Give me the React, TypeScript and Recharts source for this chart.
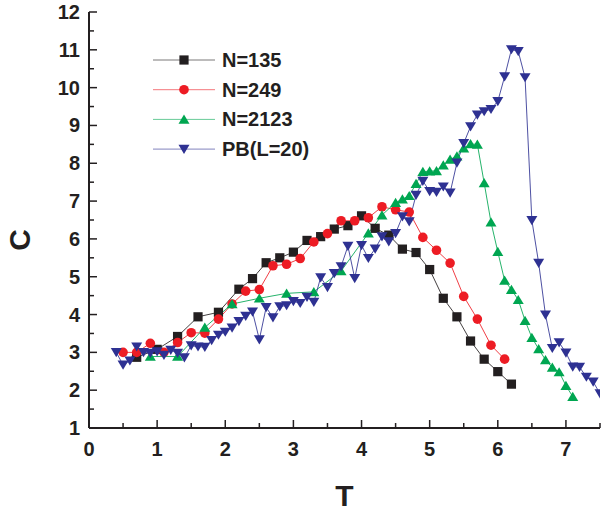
import React from "react";
import { LineChart, Line, XAxis, YAxis, Label } from "recharts";

// axis ticks (minor every 0.5, labels only on integers)
const xTicks = [0, 0.5, 1, 1.5, 2, 2.5, 3, 3.5, 4, 4.5, 5, 5.5, 6, 6.5, 7, 7.5];
const yTicks = [1, 1.5, 2, 2.5, 3, 3.5, 4, 4.5, 5, 5.5, 6, 6.5, 7, 7.5, 8, 8.5, 9, 9.5, 10, 10.5, 11, 11.5, 12];

// N=135
const t135 = [0.7, 1.0, 1.3, 1.6, 1.9, 2.2, 2.4, 2.6, 2.8, 3.0, 3.2, 3.4, 3.6, 3.8, 4.0, 4.2, 4.4, 4.6, 4.8, 5.0, 5.2, 5.4, 5.6, 5.8, 6.0, 6.2];
const c135 = [2.87, 3.08, 3.42, 3.94, 4.06, 4.67, 4.95, 5.37, 5.5, 5.65, 5.96, 6.06, 6.26, 6.35, 6.61, 6.28, 6.1, 5.73, 5.64, 5.19, 4.43, 3.94, 3.3, 2.82, 2.49, 2.16];

// N=249
const t249 = [0.5, 0.7, 0.9, 1.1, 1.3, 1.5, 1.7, 1.9, 2.1, 2.3, 2.5, 2.7, 2.9, 3.1, 3.3, 3.5, 3.7, 3.9, 4.1, 4.3, 4.5, 4.7, 4.9, 5.1, 5.3, 5.5, 5.7, 5.9, 6.1];
const c249 = [3.0, 3.0, 3.24, 3.0, 3.26, 3.52, 3.51, 3.88, 4.28, 4.62, 4.66, 5.29, 5.33, 5.48, 5.92, 6.14, 6.48, 6.48, 6.56, 6.85, 6.77, 6.71, 6.04, 5.7, 5.36, 4.48, 3.88, 3.19, 2.82];

// N=2123
const t2123 = [0.9, 1.3, 1.7, 2.1, 2.5, 2.9, 3.3, 3.7, 4.1, 4.3, 4.5, 4.6, 4.7, 4.8, 4.9, 5.0, 5.1, 5.2, 5.3, 5.4, 5.5, 5.6, 5.7, 5.8, 5.9, 6.0, 6.1, 6.2, 6.3, 6.4, 6.5, 6.6, 6.7, 6.8, 6.9, 7.0, 7.1];
const c2123 = [2.89, 2.89, 3.66, 4.28, 4.43, 4.56, 4.6, 5.15, 6.15, 6.63, 6.96, 7.05, 7.14, 7.46, 7.78, 7.79, 7.8, 7.95, 8.1, 8.19, 8.4, 8.51, 8.5, 7.48, 6.44, 5.66, 4.9, 4.66, 4.39, 3.84, 3.39, 3.09, 2.8, 2.6, 2.48, 2.12, 1.83];

// PB(L=20)
const tPB = [
  0.4, 0.5, 0.6, 0.7, 0.8, 0.9, 1.0, 1.1, 1.2, 1.3, 1.4, 1.5, 1.6, 1.7, 1.8, 1.9, 2.0, 2.1, 2.2, 2.3,
  2.4, 2.5, 2.6, 2.7, 2.8, 2.9, 3.0, 3.1, 3.2, 3.3, 3.4, 3.5, 3.6, 3.7, 3.8, 3.9, 4.0, 4.1, 4.2, 4.3,
  4.4, 4.5, 4.6, 4.7, 4.8, 4.9, 5.0, 5.1, 5.2, 5.3, 5.4, 5.5, 5.6, 5.7, 5.8, 5.9, 6.0, 6.1, 6.2, 6.3,
  6.4, 6.5, 6.6, 6.7, 6.8, 6.9, 7.0, 7.1, 7.2, 7.3, 7.4, 7.5, 7.6,
];
const cPB = [
  3.0, 2.67, 2.78, 3.15, 3.0, 2.98, 3.02, 2.93, 3.06, 2.98, 2.86, 3.18, 3.15, 3.14, 3.32, 3.46, 3.54, 3.65, 3.82, 3.96,
  4.07, 3.34, 4.19, 3.92, 4.21, 4.24, 4.35, 4.3, 4.46, 4.33, 4.98, 4.72, 5.09, 5.27, 5.81, 4.96, 5.83, 5.49, 5.74, 6.06,
  5.93, 6.15, 6.59, 6.46, 7.16, 7.53, 7.26, 7.24, 7.38, 7.22, 8.01, 8.53, 8.97, 9.28, 9.37, 9.43, 9.64, 10.29, 11.01, 10.96,
  10.27, 6.49, 5.36, 3.99, 3.11, 3.26, 2.99, 2.62, 2.61, 2.35, 2.22, 1.91, 1.79,
];

const ink = "#231f20";
const font = '"Liberation Sans", Arial, Helvetica, sans-serif';

type Shape = "square" | "circle" | "up" | "down";

const series: { name: string; t: number[]; c: number[]; color: string; shape: Shape }[] = [
  { name: "N=135", t: t135, c: c135, color: "#231f20", shape: "square" },
  { name: "N=249", t: t249, c: c249, color: "#ed1c24", shape: "circle" },
  { name: "N=2123", t: t2123, c: c2123, color: "#00a651", shape: "up" },
  { name: "PB(L=20)", t: tPB, c: cPB, color: "#2e3192", shape: "down" },
];

const Marker = ({ cx, cy, shape, color }: { cx: number; cy: number; shape: Shape; color: string }) => {
  if (cx == null || cy == null || isNaN(cx) || isNaN(cy)) return null;
  if (shape === "square") return <rect x={cx - 4.6} y={cy - 4.6} width={9.2} height={9.2} fill={color} />;
  if (shape === "circle") return <circle cx={cx} cy={cy} r={4.8} fill={color} />;
  if (shape === "up")
    return <polygon points={`${cx},${cy - 4.9} ${cx + 5.5},${cy + 4.3} ${cx - 5.5},${cy + 4.3}`} fill={color} />;
  return <polygon points={`${cx},${cy + 4.9} ${cx + 5.5},${cy - 4.3} ${cx - 5.5},${cy - 4.3}`} fill={color} />;
};

const XTick = (props: any) => {
  const { x, y, payload } = props;
  const v = payload.value;
  const major = Number.isInteger(v);
  return (
    <g>
      <line x1={x} x2={x} y1={y} y2={y - (major ? 8 : 5)} stroke={ink} strokeWidth={1.5} />
      {major && (
        <text x={x} y={y + 28} textAnchor="middle" fontSize={20} fontWeight="bold" fontFamily={font} fill={ink}>
          {v}
        </text>
      )}
    </g>
  );
};

const YTick = (props: any) => {
  const { x, y, payload } = props;
  const v = payload.value;
  const major = Number.isInteger(v);
  return (
    <g>
      <line x1={x} x2={x + (major ? 8 : 5)} y1={y} y2={y} stroke={ink} strokeWidth={1.5} />
      {major && (
        <text x={x - 9} y={y + 7} textAnchor="end" fontSize={20} fontWeight="bold" fontFamily={font} fill={ink}>
          {v}
        </text>
      )}
    </g>
  );
};

const LegendBox = () => (
  <svg width={607} height={511} style={{ position: "absolute", left: 0, top: 0, pointerEvents: "none" }}>
    {series.map((s, i) => {
      const y = 60 + i * 29.7;
      return (
        <g key={s.name}>
          <line x1={153} x2={215} y1={y} y2={y} stroke={s.color} strokeWidth={1} strokeOpacity={0.6} />
          <Marker cx={184} cy={y} shape={s.shape} color={s.color} />
          <text x={222} y={y + 7} fontSize={20} fontWeight="bold" fontFamily={font} fill={ink}>
            {s.name}
          </text>
        </g>
      );
    })}
  </svg>
);

const App = () => {
  return (
    <div style={{ position: "absolute", left: 0, top: 0, width: 607, height: 511, background: "#fff" }}>
      <LineChart width={607} height={511} margin={{ top: 12, right: 7, bottom: 0, left: 0 }}>
        <XAxis
          type="number"
          dataKey="T"
          domain={[0, 7.5]}
          allowDataOverflow
          ticks={xTicks}
          interval={0}
          tickSize={0}
          tickMargin={0}
          tickLine={false}
          tick={<XTick />}
          height={83}
          axisLine={{ stroke: ink, strokeWidth: 2 }}
        >
          <Label
            value="T"
            position="insideBottom"
            offset={5}
            style={{ fontSize: 30, fontWeight: "bold", fontFamily: font, fill: ink }}
          />
        </XAxis>
        <XAxis
          xAxisId="top"
          orientation="top"
          type="number"
          domain={[0, 7.5]}
          allowDataOverflow
          tick={false}
          tickLine={false}
          height={0}
          axisLine={{ stroke: ink, strokeWidth: 2 }}
        />
        <YAxis
          type="number"
          domain={[1, 12]}
          allowDataOverflow
          ticks={yTicks}
          interval={0}
          tickSize={0}
          tickMargin={0}
          tickLine={false}
          tick={<YTick />}
          width={89}
          axisLine={{ stroke: ink, strokeWidth: 2 }}
        >
          <Label
            content={(p: any) => {
              const vb = p.viewBox || { x: 0, y: 12, width: 89, height: 416 };
              const cx = vb.x + 19;
              const cy = vb.y + vb.height / 2 + 20;
              return (
                <text
                  x={cx}
                  y={cy}
                  transform={`rotate(-90, ${cx}, ${cy})`}
                  textAnchor="middle"
                  dominantBaseline="central"
                  fontSize={30}
                  fontWeight="bold"
                  fontFamily={font}
                  fill={ink}
                >
                  C
                </text>
              );
            }}
          />
        </YAxis>
        <YAxis
          yAxisId="right"
          orientation="right"
          type="number"
          domain={[1, 12]}
          tick={false}
          tickLine={false}
          width={0}
          axisLine={{ stroke: ink, strokeWidth: 2 }}
        />
        {series.map((s) => (
          <Line
            key={s.name}
            name={s.name}
            data={s.t.map((t, i) => ({ T: t, C: s.c[i] }))}
            dataKey="C"
            stroke={s.color}
            strokeWidth={1}
            strokeOpacity={0.85}
            isAnimationActive={false}
            activeDot={false}
            dot={(p: any) => <Marker key={`${s.name}-${p.index}`} cx={p.cx} cy={p.cy} shape={s.shape} color={s.color} />}
          />
        ))}
      </LineChart>
      <LegendBox />
    </div>
  );
};

export default App;
